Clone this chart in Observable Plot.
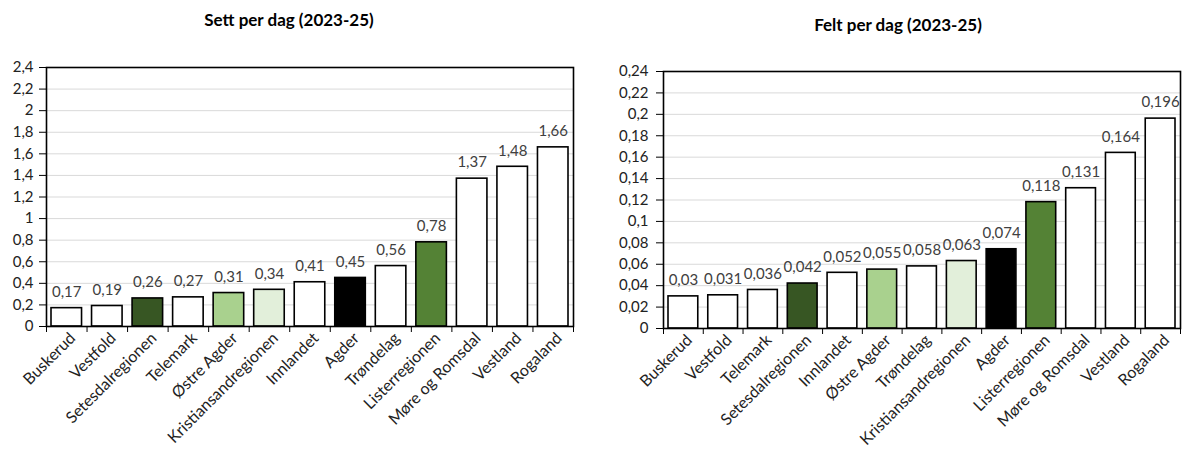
<!DOCTYPE html>
<html>
<head>
<meta charset="utf-8">
<script src="https://cdn.jsdelivr.net/npm/d3@7"></script>
<script src="https://cdn.jsdelivr.net/npm/@observablehq/plot@0.6"></script>
<style>
  html, body { margin: 0; padding: 0; background: #fff; }
  body { width: 1185px; height: 450px; position: relative; overflow: hidden; font-family: Lato, "Open Sans", sans-serif; }
  .chart { position: absolute; top: 0; }
  .title { font-weight: bold; font-size: 17px; color: #000; text-align: center; white-space: nowrap; }
  svg { display: block; }
</style>
</head>
<body>
<div id="left" class="chart" style="left:0;width:600px"></div>
<div id="right" class="chart" style="left:600px;width:585px"></div>
<script>
// ---- Data: Sett per dag (2023-25)
const settRegions = ["Buskerud", "Vestfold", "Setesdalregionen", "Telemark", "Østre Agder", "Kristiansandregionen", "Innlandet", "Agder", "Trøndelag", "Listerregionen", "Møre og Romsdal", "Vestland", "Rogaland"];
const settValues = [0.17, 0.19, 0.26, 0.27, 0.31, 0.34, 0.41, 0.45, 0.56, 0.78, 1.37, 1.48, 1.66];
const settTicks = [0, 0.2, 0.4, 0.6, 0.8, 1, 1.2, 1.4, 1.6, 1.8, 2, 2.2, 2.4];

// ---- Data: Felt per dag (2023-25)
const feltRegions = ["Buskerud", "Vestfold", "Telemark", "Setesdalregionen", "Innlandet", "Østre Agder", "Trøndelag", "Kristiansandregionen", "Agder", "Listerregionen", "Møre og Romsdal", "Vestland", "Rogaland"];
const feltValues = [0.03, 0.031, 0.036, 0.042, 0.052, 0.055, 0.058, 0.063, 0.074, 0.118, 0.131, 0.164, 0.196];
const feltTicks = [0, 0.02, 0.04, 0.06, 0.08, 0.1, 0.12, 0.14, 0.16, 0.18, 0.2, 0.22, 0.24];

// ---- Region colours
const regionColors = {
  "Setesdalregionen": "#375623",
  "Østre Agder": "#a9d18e",
  "Kristiansandregionen": "#e2efda",
  "Agder": "#000000",
  "Listerregionen": "#548235"
};

const comma = (v, digits) => String(+v.toFixed(digits)).replace(".", ",");

function makeChart(el, cfg) {
  const data = cfg.regions.map((r, i) => ({region: r, value: cfg.values[i], i}));
  const n = data.length;
  const title = document.createElement("div");
  title.className = "title";
  title.style.height = cfg.titleH + "px";
  title.style.lineHeight = cfg.titleLine + "px";
  title.style.width = cfg.titleW + "px";
  title.textContent = cfg.title;
  el.appendChild(title);

  const plot = Plot.plot({
    width: cfg.width,
    height: cfg.height,
    marginTop: cfg.mt,
    marginBottom: cfg.mb,
    marginLeft: cfg.ml,
    marginRight: cfg.mr,
    style: {fontFamily: "Lato, 'Open Sans', sans-serif", fontSize: "15px", color: "#333", background: "white"},
    x: {domain: [0, n], label: null},
    y: {domain: [0, cfg.ticks[cfg.ticks.length - 1]], label: null},
    marks: [
      Plot.gridY(cfg.ticks, {stroke: "#d9d9d9", strokeOpacity: 1}),
      Plot.rectY(data, {
        x1: "i", x2: d => d.i + 1, y1: 0, y2: "value",
        insetLeft: 5, insetRight: 5,
        fill: d => regionColors[d.region] || "white",
        stroke: "black", strokeWidth: 1.6
      }),
      Plot.text(data, {
        x: d => d.i + 0.5, y: "value",
        text: d => comma(d.value, cfg.digits),
        dy: -16, fill: "#404040", fontSize: 15
      }),
      Plot.frame({stroke: "black", strokeWidth: 1.6}),
      Plot.axisY({ticks: cfg.ticks, label: null, tickSize: 7, tickPadding: cfg.yPad, tickFormat: v => comma(v, cfg.digits), fontSize: 15, stroke: "black", color: "#222"}),
      Plot.axisX({ticks: d3.range(n + 1), label: null, tickSize: 6, tickFormat: () => "", stroke: "black"}),
      Plot.axisX({ticks: data.map(d => d.i + 0.5), label: null, tickSize: 0, tickPadding: 9, tickRotate: -45, dx: 6,
        tickFormat: v => cfg.regions[Math.floor(v)], fontSize: 16, color: "#222"})
    ]
  });
  el.appendChild(plot);
}

makeChart(document.getElementById("left"), {
  title: "Sett per dag (2023-25)", titleH: 40, titleLine: 40, titleW: 578,
  regions: settRegions, values: settValues, ticks: settTicks, digits: 2, yPad: 6,
  width: 600, height: 410, mt: 27, mb: 124, ml: 46, mr: 27
});

makeChart(document.getElementById("right"), {
  title: "Felt per dag (2023-25)", titleH: 44, titleLine: 50, titleW: 596,
  regions: feltRegions, values: feltValues, ticks: feltTicks, digits: 3, yPad: 8,
  width: 585, height: 406, mt: 27, mb: 122, ml: 63, mr: 5
});
</script>
</body>
</html>
